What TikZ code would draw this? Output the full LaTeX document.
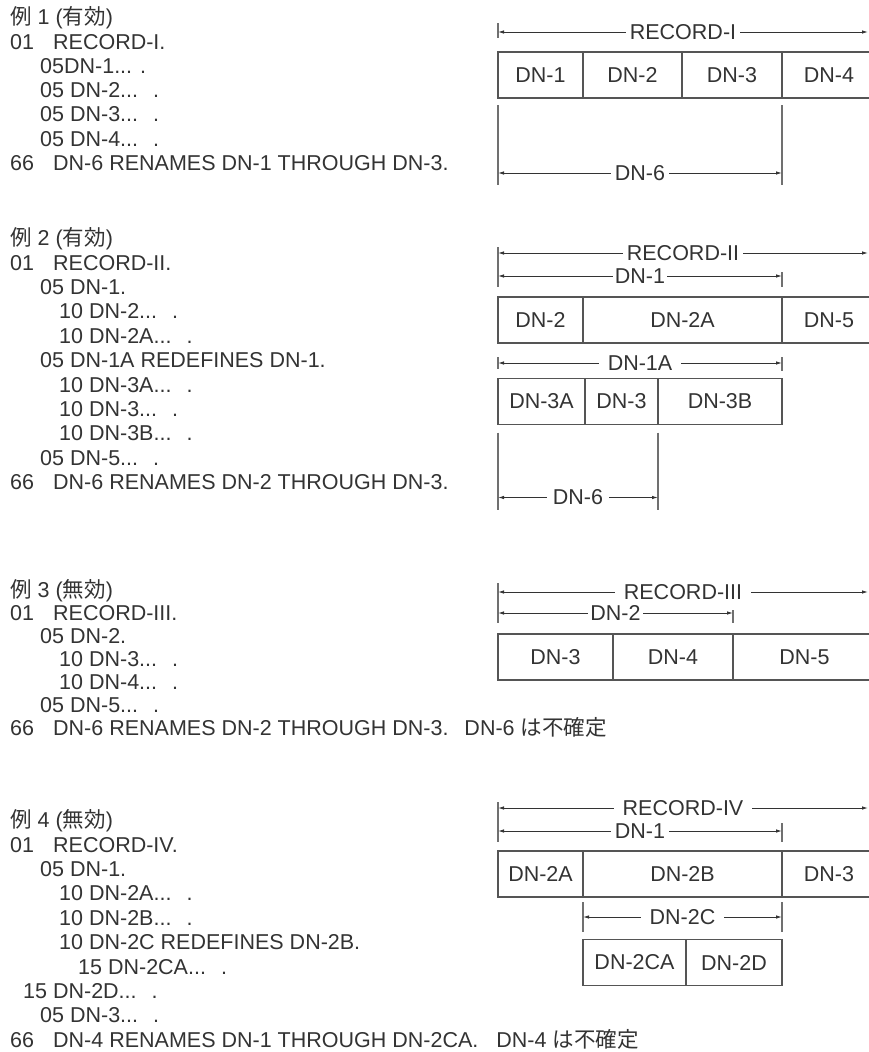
\documentclass[tikz,border=0pt]{standalone}
\usepackage{fontspec}
\setmainfont{Liberation Sans}
\newfontfamily\jp{Noto Sans CJK JP}
\usetikzlibrary{arrows.meta, calc}
\definecolor{cInk}{HTML}{333333}
\definecolor{cBox}{HTML}{555555}
\definecolor{cTick}{HTML}{707070}
\newcommand{\txt}{\fontsize{21.5}{24}\selectfont}
\newcommand{\lv}[1]{\makebox[43pt][l]{#1}}
\newcommand{\gap}{\hspace{15pt}}
\tikzset{
    code/.style ={anchor=base west, inner sep=0pt, font=\txt, text=cInk},
    cell/.style ={draw=cBox, line width=1.3pt, anchor=west, outer sep=0pt,
                  inner sep=0pt, minimum height=46pt, font=\txt, text=cInk},
    dim/.style  ={{Latex[length=6pt, width=3.5pt]}-{Latex[length=6pt, width=3.5pt]},
                  line width=0.9pt, cInk},
    tick/.style ={line width=1.3pt, cTick},
    lbl/.style  ={fill=white, inner xsep=4pt, inner ysep=0pt, font=\txt, text=cInk},
    wide/.style ={lbl, inner xsep=9pt},
}

\begin{document}
\begin{tikzpicture}[x=1pt, y=-1pt]
\path[use as bounding box, clip] (0,0) rectangle (869,1052);

% ===================== Example 1 : code =====================
\node[code] (h1)  at (10,24.7)  {{\jp 例} 1 ({\jp 有効})};
\node[code] (c1a) at (10,49)    {\lv{01}RECORD-I.};
\node[code] (c1b) at (40,73.3)  {05DN-1... .};
\node[code] (c1c) at (40,97.6)  {05 DN-2...\gap.};
\node[code] (c1d) at (40,121.9) {05 DN-3...\gap.};
\node[code] (c1e) at (40,146.2) {05 DN-4...\gap.};
\node[code] (c1f) at (10,170.5) {\lv{66}DN-6 RENAMES DN-1 THROUGH DN-3.};

% ===================== Example 1 : layout =====================
\coordinate (r1s) at (498,32);
\coordinate (r1e) at (868,32);
\draw[tick] ($(r1s)+(0,-9)$) -- ($(r1s)+(0,6)$);
\draw[dim] (r1s) -- (r1e) node[midway, lbl] {RECORD-I};

\node[cell, minimum width=85pt]  (n1a) at (498,75)   {DN-1};
\node[cell, minimum width=99pt]  (n1b) at (n1a.east) {DN-2};
\node[cell, minimum width=100pt] (n1c) at (n1b.east) {DN-3};
\node[cell, minimum width=94pt]  (n1d) at (n1c.east) {DN-4};

\draw[tick] ($(n1a.south west)+(0,7)$) -- ($(n1a.south west)+(0,87)$);
\draw[tick] ($(n1c.south east)+(0,7)$) -- ($(n1c.south east)+(0,87)$);
\coordinate (d6a) at ($(n1a.south west)+(0,75)$);
\coordinate (d6b) at ($(n1c.south east)+(0,75)$);
\draw[dim] (d6a) -- (d6b) node[midway, lbl] {DN-6};

% ===================== Example 2 : code =====================
\node[code] (h2)  at (10,245.7)  {{\jp 例} 2 ({\jp 有効})};
\node[code] (c2a) at (10,270.1)  {\lv{01}RECORD-II.};
\node[code] (c2b) at (40,294.5)  {05 DN-1.};
\node[code] (c2c) at (59,318.9)  {10 DN-2...\gap.};
\node[code] (c2d) at (59,343.3)  {10 DN-2A...\gap.};
\node[code] (c2e) at (40,367.7)  {05 DN-1A REDEFINES DN-1.};
\node[code] (c2f) at (59,392.1)  {10 DN-3A...\gap.};
\node[code] (c2g) at (59,416.5)  {10 DN-3...\gap.};
\node[code] (c2h) at (59,440.9)  {10 DN-3B...\gap.};
\node[code] (c2i) at (40,465.3)  {05 DN-5...\gap.};
\node[code] (c2j) at (10,489.7)  {\lv{66}DN-6 RENAMES DN-2 THROUGH DN-3.};

% ===================== Example 2 : layout =====================
\coordinate (r2s) at (498,253);
\coordinate (r2e) at (868,253);
\coordinate (d1a) at (498,276);
\coordinate (d1b) at (782,276);
\draw[tick] ($(r2s)+(0,-6)$) -- ($(r2s)+(0,34)$);
\draw[tick] ($(d1b)+(0,-4)$) -- ($(d1b)+(0,11)$);
\draw[dim] (r2s) -- (r2e) node[midway, lbl] {RECORD-II};
\draw[dim] (d1a) -- (d1b) node[midway, lbl, inner xsep=2pt] {DN-1};

\node[cell, minimum width=85pt]  (n2a) at (498,320)  {DN-2};
\node[cell, minimum width=199pt] (n2b) at (n2a.east) {DN-2A};
\node[cell, minimum width=94pt]  (n2c) at (n2b.east) {DN-5};

\coordinate (e1a) at ($(n2a.south west)+(0,20)$);
\coordinate (e1b) at ($(n2b.south east)+(0,20)$);
\draw[tick] ($(e1a)+(0,-6)$) -- ($(e1a)+(0,6)$);
\draw[tick] ($(e1b)+(0,-6)$) -- ($(e1b)+(0,8)$);
\draw[dim] (e1a) -- (e1b) node[midway, wide] {DN-1A};

\node[cell, minimum width=87pt]  (n2d) at (498,401.5) {DN-3A};
\node[cell, minimum width=73pt]  (n2e) at (n2d.east)  {DN-3};
\node[cell, minimum width=124pt] (n2f) at (n2e.east)  {DN-3B};

\draw[tick] ($(n2d.south west)+(0,8)$) -- ($(n2d.south west)+(0,85)$);
\draw[tick] ($(n2e.south east)+(0,8)$) -- ($(n2e.south east)+(0,85)$);
\coordinate (g6a) at ($(n2d.south west)+(0,73)$);
\coordinate (g6b) at ($(n2e.south east)+(0,73)$);
\draw[dim] (g6a) -- (g6b) node[midway, lbl, inner xsep=6pt] {DN-6};

% ===================== Example 3 : code =====================
\node[code] (h3)  at (10,597.7) {{\jp 例} 3 ({\jp 無効})};
\node[code] (c3a) at (10,620.7) {\lv{01}RECORD-III.};
\node[code] (c3b) at (40,643.7) {05 DN-2.};
\node[code] (c3c) at (59,666.7) {10 DN-3...\gap.};
\node[code] (c3d) at (59,689.7) {10 DN-4...\gap.};
\node[code] (c3e) at (40,712.7) {05 DN-5...\gap.};
\node[code] (c3f) at (10,735.7) {\lv{66}DN-6 RENAMES DN-2 THROUGH DN-3.\hspace{8pt} DN-6 {\jp は不確定}};

% ===================== Example 3 : layout =====================
\coordinate (r3s) at (498,592);
\coordinate (r3e) at (868,592);
\coordinate (d2a) at (498,613);
\coordinate (d2b) at (733,613);
\draw[tick] ($(r3s)+(0,-9)$) -- ($(r3s)+(0,31)$);
\draw[tick] ($(d2b)+(0,-3)$) -- ($(d2b)+(0,10)$);
\draw[dim] (r3s) -- (r3e) node[midway, wide] {RECORD-III};
\draw[dim] (d2a) -- (d2b) node[midway, lbl, inner xsep=2pt] {DN-2};

\node[cell, minimum width=115pt] (n3a) at (498,657)  {DN-3};
\node[cell, minimum width=120pt] (n3b) at (n3a.east) {DN-4};
\node[cell, minimum width=143pt] (n3c) at (n3b.east) {DN-5};

% ===================== Example 4 : code =====================
\node[code] (h4)  at (10,827.7)  {{\jp 例} 4 ({\jp 無効})};
\node[code] (c4a) at (10,852.1)  {\lv{01}RECORD-IV.};
\node[code] (c4b) at (40,876.5)  {05 DN-1.};
\node[code] (c4c) at (59,900.9)  {10 DN-2A...\gap.};
\node[code] (c4d) at (59,925.3)  {10 DN-2B...\gap.};
\node[code] (c4e) at (59,949.7)  {10 DN-2C REDEFINES DN-2B.};
\node[code] (c4f) at (78,974.1)  {15 DN-2CA...\gap.};
\node[code] (c4g) at (23,998.5)  {15 DN-2D...\gap.};
\node[code] (c4h) at (40,1022.9) {05 DN-3...\gap.};
\node[code] (c4i) at (10,1047.3) {\lv{66}DN-4 RENAMES DN-1 THROUGH DN-2CA.\hspace{12pt} DN-4 {\jp は不確定}};

% ===================== Example 4 : layout =====================
\coordinate (r4s) at (498,808);
\coordinate (r4e) at (868,808);
\coordinate (d4a) at (498,831);
\coordinate (d4b) at (782,831);
\draw[tick] ($(r4s)+(0,-6)$) -- ($(r4s)+(0,34)$);
\draw[tick] ($(d4b)+(0,-8)$) -- ($(d4b)+(0,11)$);
\draw[dim] (r4s) -- (r4e) node[midway, wide] {RECORD-IV};
\draw[dim] (d4a) -- (d4b) node[midway, lbl] {DN-1};

\node[cell, minimum width=85pt]  (n4a) at (498,874)  {DN-2A};
\node[cell, minimum width=199pt] (n4b) at (n4a.east) {DN-2B};
\node[cell, minimum width=94pt]  (n4c) at (n4b.east) {DN-3};

\coordinate (f2a) at ($(n4b.south west)+(0,20)$);
\coordinate (f2b) at ($(n4b.south east)+(0,20)$);
\draw[tick] ($(f2a)+(0,-15)$) -- ($(f2a)+(0,15)$);
\draw[tick] ($(f2b)+(0,-15)$) -- ($(f2b)+(0,15)$);
\draw[dim] (f2a) -- (f2b) node[midway, wide] {DN-2C};

\node[cell, minimum width=103pt] (n4d) at (583,962.5) {DN-2CA};
\node[cell, minimum width=96pt]  (n4e) at (n4d.east)  {DN-2D};

\end{tikzpicture}
\end{document}
